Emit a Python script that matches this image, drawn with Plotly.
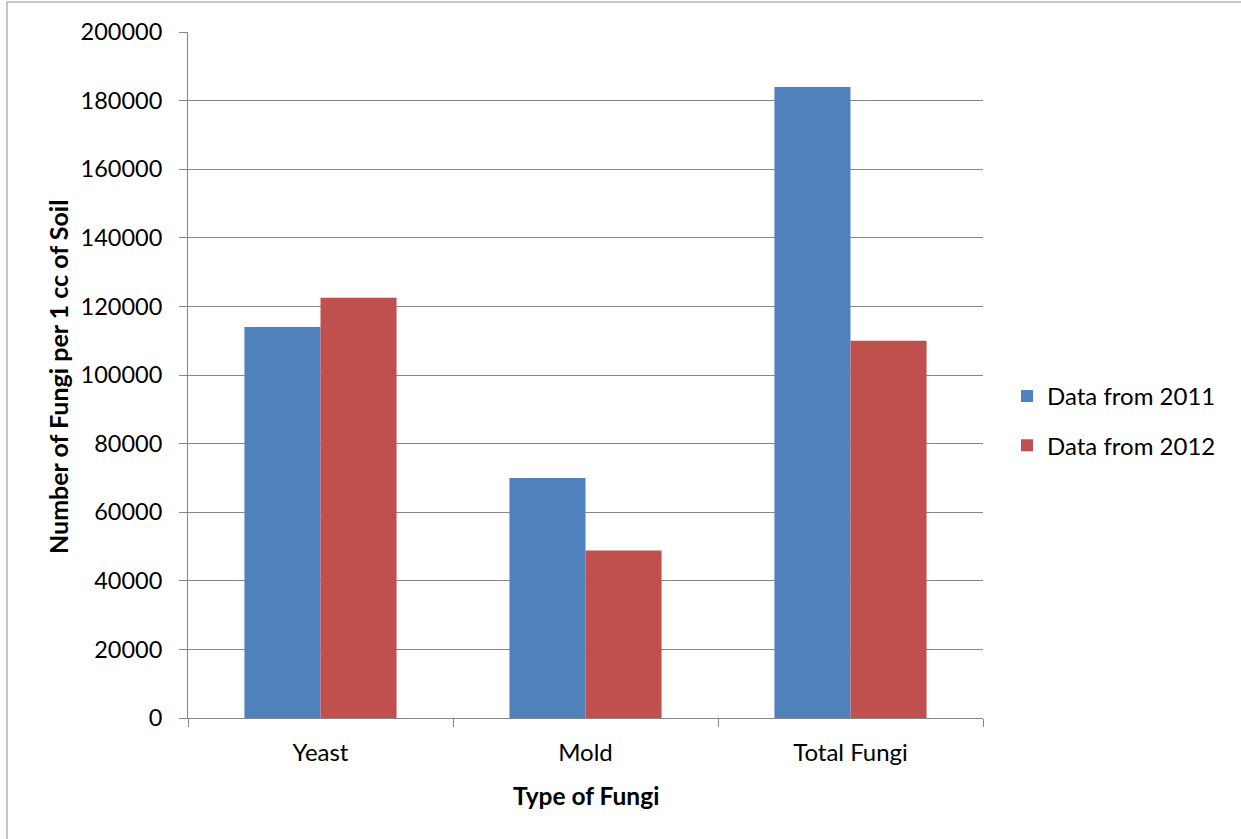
import plotly.graph_objects as go

# Fungi counts per 1 cc of soil
categories = ["Yeast", "Mold", "Total Fungi"]
data_2011 = [114000, 70000, 184000]
data_2012 = [122500, 48800, 110000]
series_names = ["Data from 2011", "Data from 2012"]
y_tick_values = [0, 20000, 40000, 60000, 80000, 100000, 120000, 140000, 160000, 180000, 200000]

FONT = "Lato, Calibri, Arial, sans-serif"
GRAY = "#868686"

fig = go.Figure()
fig.add_trace(go.Bar(
    x=categories, y=data_2011, name=series_names[0],
    marker=dict(color="#4F81BD", line=dict(width=0)),
    legendgroup="a",
))
fig.add_trace(go.Bar(
    x=categories, y=data_2012, name=series_names[1],
    marker=dict(color="#C0504D", line=dict(width=0)),
    legendgroup="b",
))

fig.update_layout(
    width=1241, height=839,
    margin=dict(l=188, r=258, t=32, b=121),
    paper_bgcolor="white", plot_bgcolor="white",
    barmode="group", bargap=0.426, bargroupgap=0,
    font=dict(family=FONT, size=22, color="black"),
    showlegend=True,
    legend=dict(
        x=1.0302, xanchor="left", y=0.433, yanchor="middle",
        font=dict(family=FONT, size=24, color="black"),
        tracegroupgap=15, bgcolor="rgba(0,0,0,0)",
    ),
    xaxis=dict(
        type="category", tickson="boundaries",
        showline=True, linecolor=GRAY, linewidth=1,
        ticks="outside", ticklen=8, tickcolor=GRAY,
        showgrid=False, zeroline=False,
        tickfont=dict(family=FONT, size=24),
        ticklabelstandoff=13,
    ),
    yaxis=dict(
        range=[0, 200000], tickvals=y_tick_values,
        tickformat="d",
        showline=True, linecolor=GRAY, linewidth=1,
        ticks="outside", ticklen=8, tickcolor=GRAY,
        showgrid=True, gridcolor=GRAY, gridwidth=1,
        zeroline=False,
        tickfont=dict(family=FONT, size=23.5),
        ticklabelstandoff=12,
    ),
    shapes=[dict(
        type="rect", xref="paper", yref="paper",
        x0=-0.2277, x1=1.5, y0=-0.6, y1=1.0437,
        line=dict(color="#8c8c8c", width=1), fillcolor="rgba(0,0,0,0)",
        layer="below",
    )],
    annotations=[
        dict(
            text="<b>Number of Fungi per 1 cc of Soil</b>",
            xref="paper", yref="paper",
            x=(58 - 188) / 795, y=(718 - 377) / 686,
            xanchor="center", yanchor="middle", textangle=-90,
            showarrow=False, font=dict(family=FONT, size=25, color="black"),
        ),
        dict(
            text="<b>Type of Fungi</b>",
            xref="paper", yref="paper",
            x=0.5, y=(718 - 795) / 686,
            xanchor="center", yanchor="middle",
            showarrow=False, font=dict(family=FONT, size=24.5, color="black"),
        ),
    ],
)

fig.write_html("out.html")
